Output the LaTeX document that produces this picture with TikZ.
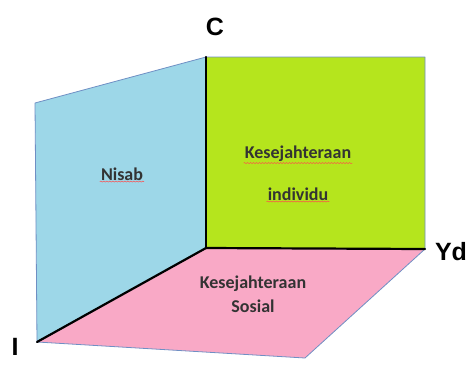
\documentclass[tikz,border=0pt]{standalone}
\usepackage{fontspec}
\setmainfont{Carlito}
\newfontfamily\axisfont{Liberation Sans}
\usetikzlibrary{decorations.pathmorphing}
\definecolor{panelblue}{HTML}{9DD7E8}
\definecolor{panelgreen}{HTML}{B5E51D}
\definecolor{panelpink}{HTML}{F9A9C6}
\definecolor{edgeblue}{HTML}{6F8FC4}
\tikzset{
  panel/.style={draw=edgeblue, line width=0.8pt, line join=round},
  axisedge/.style={draw=black, line width=2.2pt, line cap=round},
  axislabel/.style={font=\axisfont\bfseries\fontsize{25}{27}\selectfont, inner sep=0pt},
  facelabel/.style={font=\bfseries\fontsize{18}{20}\selectfont, text=black!80, inner sep=1pt, align=center},
  squiggle/.style={draw=red!70, line width=0.5pt, decorate, decoration={snake, amplitude=0.5pt, segment length=3pt}}
}
\begin{document}
\begin{tikzpicture}[x=1pt,y=-1pt]
\useasboundingbox (0,0) rectangle (470,378);
% corners
\coordinate (O) at (206,248);
\coordinate (Ct) at (206,57);
\coordinate (Gtr) at (425,57);
\coordinate (Yc) at (425,249);
\coordinate (Btl) at (35,103);
\coordinate (Ic) at (37,342);
\coordinate (Fr) at (305,358);
% faces
\path[panel, fill=panelblue] (Ic) -- (Btl) -- (Ct) -- (O) -- cycle;
\path[panel, fill=panelpink] (Ic) -- (O) -- (Yc) -- (Fr) -- cycle;
\path[panel, fill=panelgreen] (O) -- (Ct) -- (Gtr) -- (Yc) -- cycle;
% axes
\draw[axisedge] (O) -- (Ct);
\draw[axisedge] (O) -- (Yc);
\draw[axisedge] (O) -- (Ic);
% axis labels
\node[axislabel] (lC) at (215,27) {C};
\node[axislabel] (lY) at (451,252) {Yd};
\node[axislabel] (lI) at (15,347) {I};
% face labels
\node[facelabel] (nisab) at (122,174) {Nisab};
\node[facelabel] (kes1) at (298,154) {Kesejahteraan};
\node[facelabel] (ind) at (298,194) {individu};
\node[facelabel] (kes2) at (253,284) {Kesejahteraan};
\node[facelabel] (sos) at (253,306) {Sosial};
% spellcheck underlines
\draw[squiggle] (nisab.south west) -- (nisab.south east);
\draw[squiggle] (kes1.south west) -- (kes1.south east);
\draw[squiggle] (ind.south west) -- (ind.south east);
\end{tikzpicture}
\end{document}
